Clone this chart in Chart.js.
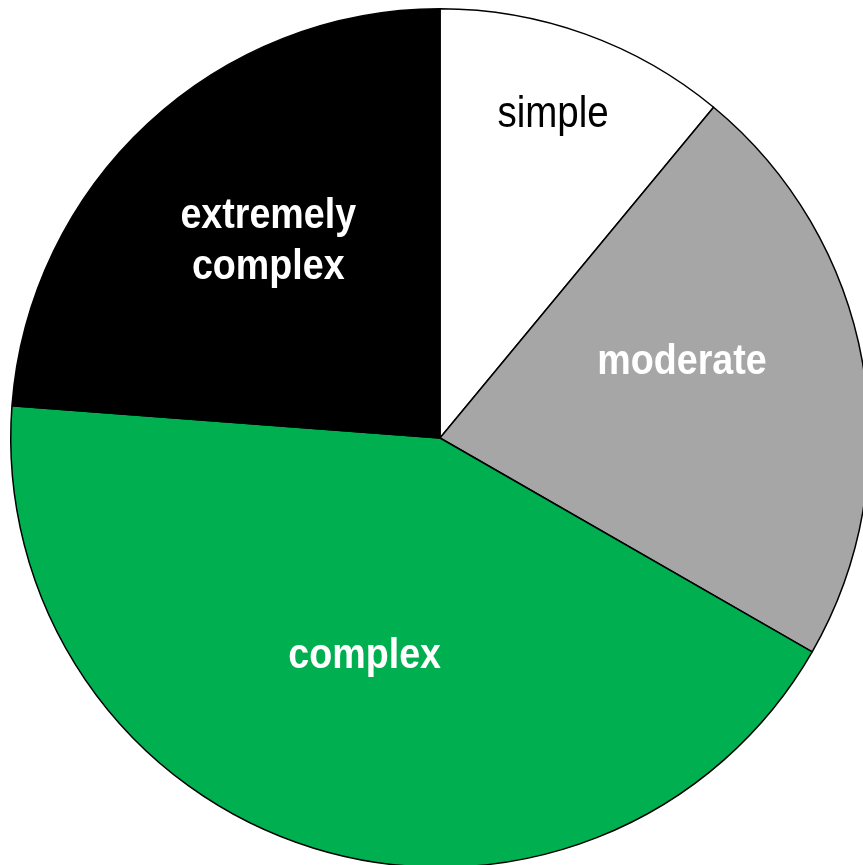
<!DOCTYPE html>
<html>
<head>
<meta charset="utf-8">
<script src="https://cdn.jsdelivr.net/npm/chart.js@4/dist/chart.umd.min.js"></script>
<style>
  html, body { margin: 0; padding: 0; background: #ffffff; overflow: hidden; width: 863px; height: 865px; }
  #wrap { position: absolute; left: 0; top: 0; width: 880px; height: 876px; }
</style>
</head>
<body>
<div id="wrap"><canvas id="c" width="880" height="876"></canvas></div>
<script>
// Data
const categories = ['simple', 'moderate', 'complex', 'extremely complex'];
const shares = [11.0, 22.3, 42.9, 23.8];
const sliceColors = ['#FFFFFF', '#A6A6A6', '#00B050', '#000000'];
const labelColors = ['#000000', '#FFFFFF', '#FFFFFF', '#FFFFFF'];

// Label placement (style): fraction of radius and angle shift in degrees
const labelStyle = [
  { frac: 0.795, shift: -0.45, weight: 'normal', size: 44 },
  { frac: 0.59,  shift: -6.9,  weight: 'bold',   size: 43 },
  { frac: 0.539, shift: 1.9,   weight: 'bold',   size: 43 },
  { frac: 0.607, shift: 1.6,   weight: 'bold',   size: 43 }
];

const sliceLabels = {
  id: 'sliceLabels',
  afterDatasetsDraw(chart) {
    const ctx = chart.ctx;
    const meta = chart.getDatasetMeta(0);
    meta.data.forEach((arc, i) => {
      const p = arc.getProps(['x', 'y', 'startAngle', 'endAngle', 'outerRadius'], true);
      const st = labelStyle[i];
      const mid = (p.startAngle + p.endAngle) / 2 + st.shift * Math.PI / 180;
      const r = p.outerRadius * st.frac;
      const ax = p.x + Math.cos(mid) * r;
      const ay = p.y + Math.sin(mid) * r;
      const lines = chart.data.labels[i].split(' ');
      const lh = 51;
      ctx.save();
      ctx.translate(ax, ay);
      ctx.scale(0.875, 1);
      ctx.font = st.weight + ' ' + st.size + 'px "Liberation Sans", Arial, sans-serif';
      ctx.fillStyle = labelColors[i];
      ctx.textAlign = 'center';
      ctx.textBaseline = 'alphabetic';
      const xh = st.size * 0.519;
      lines.forEach((t, k) => {
        const by = xh / 2 + (k - (lines.length - 1) / 2) * lh;
        ctx.fillText(t, 0, by);
      });
      ctx.restore();
    });
  }
};

new Chart(document.getElementById('c'), {
  type: 'pie',
  data: {
    labels: categories,
    datasets: [{
      data: shares,
      backgroundColor: sliceColors,
      borderColor: '#000000',
      borderWidth: 1.5
    }]
  },
  options: {
    responsive: false,
    devicePixelRatio: 1,
    animation: false,
    layout: { padding: { left: 10, right: 10, top: 8, bottom: 8 } },
    plugins: {
      legend: { display: false },
      tooltip: { enabled: false }
    }
  },
  plugins: [sliceLabels]
});
</script>
</body>
</html>
